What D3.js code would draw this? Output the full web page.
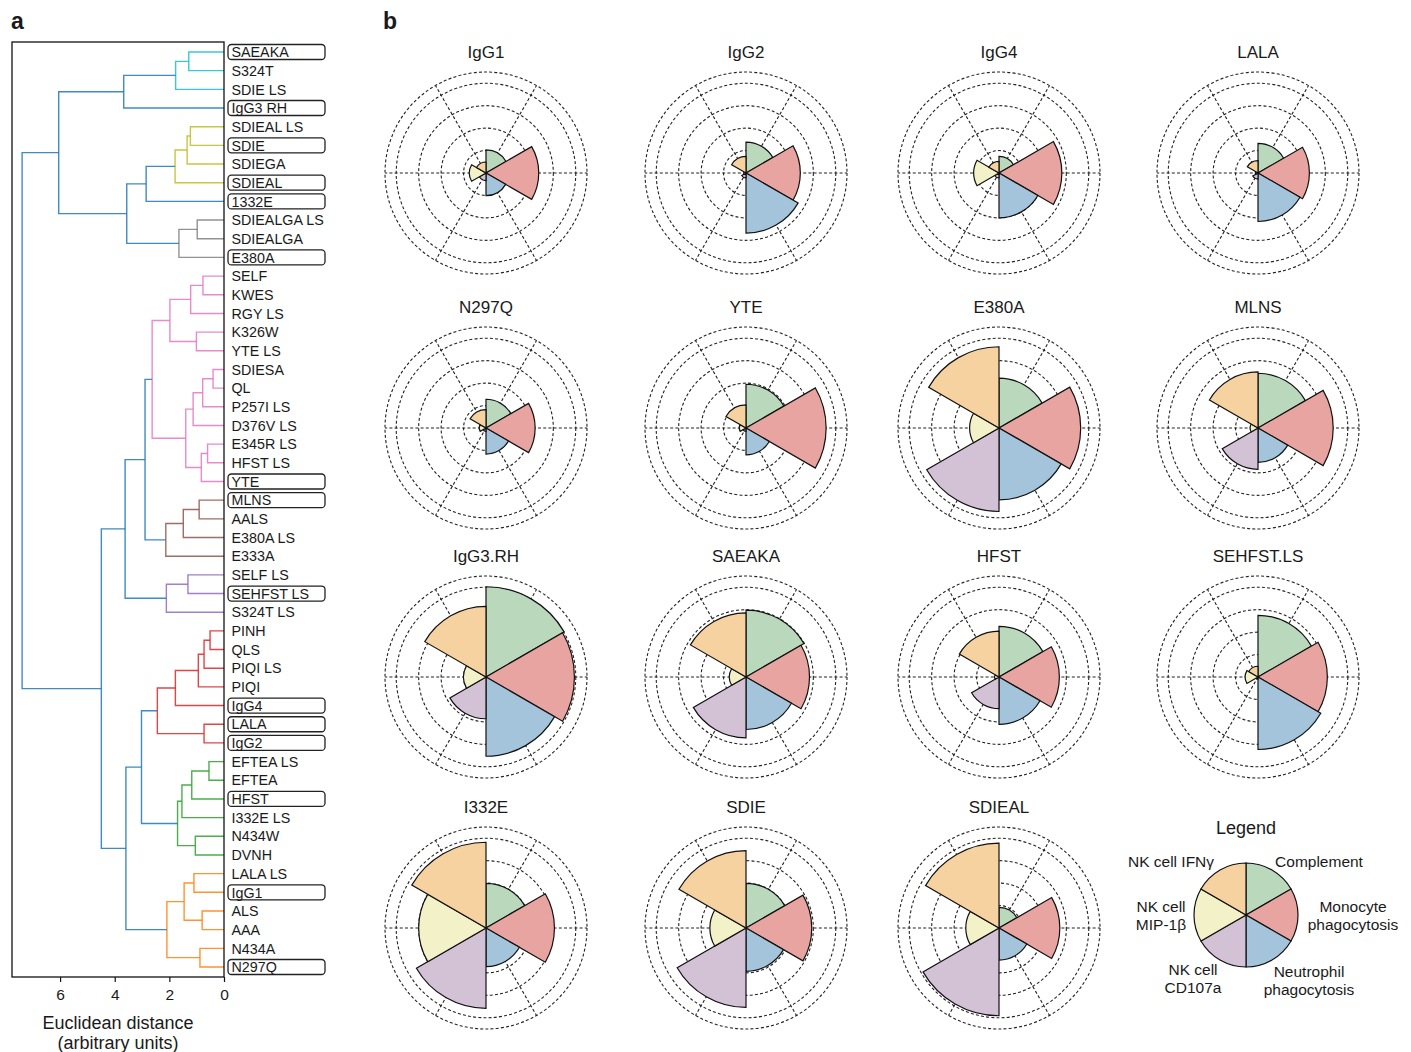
<!DOCTYPE html>
<html>
<head>
<meta charset="utf-8">
<script src="https://cdn.jsdelivr.net/npm/d3@7"></script>
<style>
  body { margin: 0; background: #fff; }
  svg { display: block; }
  text { font-family: "Liberation Sans", Arial, sans-serif; fill: #1a1a1a; }
</style>
</head>
<body>
<svg id="fig" width="1411" height="1052"></svg>
<script>
// ---------- Panel a: hierarchical clustering of Fc variants ----------
const leaves = [
  "SAEAKA", "S324T", "SDIE LS", "IgG3 RH", "SDIEAL LS", "SDIE", "SDIEGA", "SDIEAL",
  "1332E", "SDIEALGA LS", "SDIEALGA", "E380A", "SELF", "KWES", "RGY LS", "K326W",
  "YTE LS", "SDIESA", "QL", "P257I LS", "D376V LS", "E345R LS", "HFST LS", "YTE",
  "MLNS", "AALS", "E380A LS", "E333A", "SELF LS", "SEHFST LS", "S324T LS", "PINH",
  "QLS", "PIQI LS", "PIQI", "IgG4", "LALA", "IgG2", "EFTEA LS", "EFTEA",
  "HFST", "I332E LS", "N434W", "DVNH", "LALA LS", "IgG1", "ALS", "AAA",
  "N434A", "N297Q"
];
const boxedLeaves = ["SAEAKA", "IgG3 RH", "SDIE", "SDIEAL", "1332E", "E380A", "YTE", "MLNS",
  "SEHFST LS", "IgG4", "LALA", "IgG2", "HFST", "IgG1", "N297Q"];

// linkage rows: [child A, child B, merge distance]; ids >= 50 refer to earlier rows
const linkage = [
  [0, 1, 1.29], [50, 2, 1.77], [51, 3, 3.67], [4, 5, 1.23], [53, 6, 1.35],
  [54, 7, 1.79], [55, 8, 2.85], [9, 10, 0.98], [57, 11, 1.65], [56, 58, 3.56],
  [52, 59, 6.05], [12, 13, 0.77], [61, 14, 1.22], [15, 16, 1.01], [62, 63, 1.98],
  [17, 18, 0.40], [65, 19, 0.78], [66, 20, 1.13], [21, 22, 0.60], [68, 23, 0.83],
  [67, 69, 1.40], [64, 70, 2.63], [24, 25, 0.91], [72, 26, 1.49], [73, 27, 2.13],
  [71, 74, 2.89], [28, 29, 1.32], [76, 30, 2.11], [75, 77, 3.62], [31, 32, 0.51],
  [79, 33, 0.73], [80, 34, 0.94], [81, 35, 1.78], [36, 37, 0.73], [82, 83, 2.44],
  [38, 39, 0.55], [85, 40, 1.18], [86, 41, 1.54], [42, 43, 1.05], [87, 88, 1.70],
  [84, 89, 3.02], [44, 45, 1.10], [46, 47, 0.80], [91, 92, 1.46], [48, 49, 0.88],
  [93, 94, 2.09], [90, 95, 3.59], [78, 96, 4.49], [60, 97, 7.39]
];
const colorThreshold = 2.7;
// cluster colours, handed out from the bottom cluster upwards
const clusterPalette = ["#ff7f0e", "#2ca02c", "#d62728", "#9467bd", "#8c564b",
  "#e377c2", "#7f7f7f", "#bcbd22", "#17becf"];
const aboveThresholdColor = "#1f77b4";
const distanceTicks = [0, 2, 4, 6];

// ---------- Panel b: polar profiles of effector functions ----------
const functions = ["Complement", "Monocyte phagocytosis", "Neutrophil phagocytosis",
  "NK cell CD107a", "NK cell MIP-1β", "NK cell IFNγ"];
const functionColors = ["#bad8bc", "#e8a4a0", "#a3c4da", "#d3c1d6", "#f3f1c7", "#f6d2a0"];
const variants = ["IgG1", "IgG2", "IgG4", "LALA", "N297Q", "YTE", "E380A", "MLNS",
  "IgG3.RH", "SAEAKA", "HFST", "SEHFST.LS", "I332E", "SDIE", "SDIEAL"];
// one row per variant, columns follow `functions`
const variantScores = [
  [1.03, 2.35, 1.01, 0.34, 0.74, 0.49],
  [1.38, 2.42, 2.68, 0.22, 0.10, 0.74],
  [0.74, 2.80, 2.00, 0.22, 1.13, 0.52],
  [1.32, 2.29, 2.16, 0.27, 0.12, 0.55],
  [1.28, 2.19, 1.16, 0.15, 0.30, 0.82],
  [1.95, 3.57, 1.20, 0.15, 0.30, 1.03],
  [2.22, 3.64, 3.20, 3.72, 1.31, 3.62],
  [2.44, 3.35, 1.53, 1.84, 0.35, 2.50],
  [4.02, 3.94, 3.53, 1.86, 1.00, 3.15],
  [2.98, 2.83, 2.34, 2.71, 0.74, 2.86],
  [2.26, 2.69, 2.11, 1.41, 0.20, 2.04],
  [2.75, 3.09, 3.23, 0.10, 0.57, 0.48],
  [1.99, 3.05, 1.72, 3.58, 3.00, 3.82],
  [1.99, 2.93, 1.93, 3.54, 1.61, 3.45],
  [0.92, 2.71, 1.43, 3.91, 1.48, 3.78]
];
const radialTicks = [1, 2, 3, 4];
const radialMax = 4.5;
const legendLabels = [
  ["Complement"], ["Monocyte", "phagocytosis"], ["Neutrophil", "phagocytosis"],
  ["NK cell", "CD107a"], ["NK cell", "MIP-1β"], ["NK cell IFNγ"]
];

const svg = d3.select("#fig");

// panel letters
svg.append("text").attr("x", 11).attr("y", 29).attr("font-size", 23)
  .attr("font-weight", "bold").text("a");
svg.append("text").attr("x", 383).attr("y", 29).attr("font-size", 23)
  .attr("font-weight", "bold").text("b");

// ---------- dendrogram ----------
const frame = { left: 12, right: 224, top: 42, bottom: 977 };
const xDist = d3.scaleLinear().domain([0, 7.76]).range([frame.right, frame.left]);
const yLeaf = d3.scaleLinear().domain([0, leaves.length - 1]).range([52, 967]);

const nodes = leaves.map((name, i) => ({ id: i, y: yLeaf(i), h: 0, leaf: true }));
linkage.forEach(([a, b, h], k) => {
  nodes.push({ id: leaves.length + k, a, b, h, y: (nodes[a].y + nodes[b].y) / 2, leaf: false });
});

// colour assignment: clusters below the threshold take palette colours bottom-up
const clusterRoots = [];
function findClusters(id) {
  const n = nodes[id];
  if (n.leaf) return;
  if (n.h <= colorThreshold) { clusterRoots.push(id); return; }
  findClusters(n.a); findClusters(n.b);
}
findClusters(nodes.length - 1);
clusterRoots.sort((p, q) => nodes[q].y - nodes[p].y);
function paint(id, color) {
  const n = nodes[id];
  if (n.leaf) return;
  n.color = color;
  paint(n.a, color); paint(n.b, color);
}
clusterRoots.forEach((id, i) => paint(id, clusterPalette[i % clusterPalette.length]));
nodes.forEach(n => { if (!n.leaf && !n.color) n.color = aboveThresholdColor; });

const gDen = svg.append("g");
gDen.selectAll("path.link")
  .data(nodes.filter(n => !n.leaf))
  .join("path")
  .attr("class", "link")
  .attr("fill", "none")
  .attr("stroke", d => d.color)
  .attr("stroke-opacity", 0.85)
  .attr("stroke-width", 1.4)
  .attr("d", d => {
    const A = nodes[d.a], B = nodes[d.b];
    return `M${xDist(A.h)},${A.y}H${xDist(d.h)}V${B.y}H${xDist(B.h)}`;
  });

// frame
gDen.append("rect")
  .attr("x", frame.left).attr("y", frame.top)
  .attr("width", frame.right - frame.left).attr("height", frame.bottom - frame.top)
  .attr("fill", "none").attr("stroke", "#111").attr("stroke-width", 1.3);

// distance axis
const xAxis = d3.axisBottom(xDist).tickValues(distanceTicks).tickSize(5).tickPadding(7);
const gAx = gDen.append("g").attr("transform", `translate(0,${frame.bottom})`).call(xAxis);
gAx.select(".domain").remove();
gAx.selectAll(".tick line").attr("stroke", "#111").attr("stroke-width", 1.2);
gAx.selectAll(".tick text").attr("font-size", 15.5)
  .attr("font-family", "Liberation Sans, Arial, sans-serif").attr("fill", "#1a1a1a");
gDen.append("text").attr("x", 118).attr("y", 1029).attr("text-anchor", "middle")
  .attr("font-size", 18).text("Euclidean distance");
gDen.append("text").attr("x", 118).attr("y", 1049).attr("text-anchor", "middle")
  .attr("font-size", 18).text("(arbitrary units)");

// leaf labels
const gLeaf = gDen.selectAll("g.leaf").data(leaves).join("g")
  .attr("class", "leaf")
  .attr("transform", (d, i) => `translate(0,${yLeaf(i)})`);
gLeaf.filter(d => boxedLeaves.includes(d)).append("rect")
  .attr("x", 228).attr("y", -7.5).attr("width", 97).attr("height", 15).attr("rx", 3.5)
  .attr("fill", "none").attr("stroke", "#222").attr("stroke-width", 1.3);
gLeaf.append("text").attr("x", 231.5).attr("y", 5.2).attr("font-size", 14.3).text(d => d);

// ---------- polar profiles ----------
const colX = [486, 746, 999, 1258];
const rowY = [173, 428, 677, 928];
const rScale = d3.scaleLinear().domain([0, radialMax]).range([0, 101]);
const sector = 2 * Math.PI / functions.length;
const arc = d3.arc().innerRadius(0);
const dash = "3,2.2";

variants.forEach((name, vi) => {
  const cx = colX[vi % 4], cy = rowY[Math.floor(vi / 4)];
  const g = svg.append("g").attr("transform", `translate(${cx},${cy})`);

  // grid rings and spokes
  g.selectAll("circle.ring").data(radialTicks.concat([radialMax])).join("circle")
    .attr("class", "ring").attr("r", d => rScale(d))
    .attr("fill", "none").attr("stroke", "#222").attr("stroke-width", 1.1)
    .attr("stroke-dasharray", dash);
  g.selectAll("line.spoke").data(functions).join("line")
    .attr("class", "spoke")
    .attr("x1", 0).attr("y1", 0)
    .attr("x2", (d, i) => rScale(radialMax) * Math.sin((i + 0.5) * sector))
    .attr("y2", (d, i) => -rScale(radialMax) * Math.cos((i + 0.5) * sector))
    .attr("stroke", "#222").attr("stroke-width", 1.1).attr("stroke-dasharray", dash);

  // bars
  g.selectAll("path.bar").data(variantScores[vi]).join("path")
    .attr("class", "bar")
    .attr("d", (v, i) => arc({ outerRadius: rScale(v), startAngle: i * sector, endAngle: (i + 1) * sector }))
    .attr("fill", (v, i) => functionColors[i])
    .attr("stroke", "#111").attr("stroke-width", 1.2).attr("stroke-linejoin", "miter");

  svg.append("text").attr("x", cx).attr("y", cy - 115).attr("text-anchor", "middle")
    .attr("font-size", 17).text(name);
});

// ---------- legend ----------
const lg = svg.append("g").attr("transform", "translate(1246,915)");
svg.append("text").attr("x", 1246).attr("y", 834).attr("text-anchor", "middle")
  .attr("font-size", 18).text("Legend");
lg.selectAll("path").data(functions).join("path")
  .attr("d", (d, i) => arc({ outerRadius: 52, startAngle: i * sector, endAngle: (i + 1) * sector }))
  .attr("fill", (d, i) => functionColors[i])
  .attr("stroke", "#111").attr("stroke-width", 1.2);

const legendPos = [[1319, 867], [1353, 912], [1309, 977], [1193, 975], [1161, 912], [1171, 867]];
legendLabels.forEach((lines, i) => {
  const t = svg.append("text").attr("text-anchor", "middle").attr("font-size", 15.5)
    .attr("x", legendPos[i][0]).attr("y", legendPos[i][1]);
  lines.forEach((ln, j) => t.append("tspan").attr("x", legendPos[i][0]).attr("dy", j ? 17.5 : 0).text(ln));
});
</script>
</body>
</html>
